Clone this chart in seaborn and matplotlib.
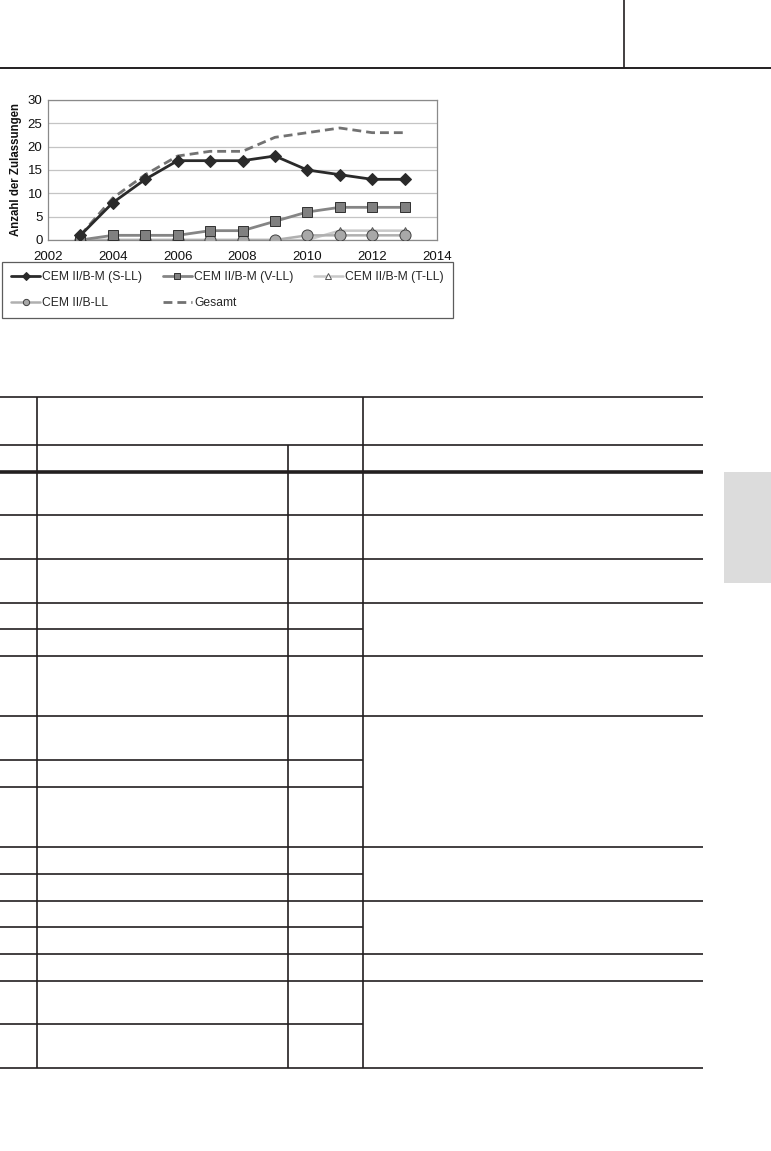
import matplotlib
matplotlib.use("Agg")
import matplotlib.pyplot as plt
from matplotlib.lines import Line2D
from matplotlib.patches import Rectangle
import seaborn as sns

sns.set_theme(style="white")
plt.rcParams['font.family'] = ['Liberation Sans', 'DejaVu Sans']

# ---------------- data ----------------
years = [2003, 2004, 2005, 2006, 2007, 2008, 2009, 2010, 2011, 2012, 2013]
s_ll = [1, 8, 13, 17, 17, 17, 18, 15, 14, 13, 13]
v_ll = [0, 1, 1, 1, 2, 2, 4, 6, 7, 7, 7]
t_ll = [0, 0, 0, 0, 0, 0, 0, 0, 2, 2, 2]
b_ll = [0, 0, 0, 0, 0, 0, 0, 1, 1, 1, 1]
gesamt = [1, 9, 14, 18, 19, 19, 22, 23, 24, 23, 23]

labels = ["CEM II/B-M (S-LL)", "CEM II/B-M (V-LL)", "CEM II/B-M (T-LL)",
          "CEM II/B-LL", "Gesamt"]
x_ticks = [2002, 2004, 2006, 2008, 2010, 2012, 2014]
y_ticks = [0, 5, 10, 15, 20, 25, 30]
y_label = "Anzahl der Zulassungen"

W, H = 771, 1151
fig = plt.figure(figsize=(W / 100, H / 100), dpi=100)


def fx(px):
    return px / W


def fy(py):
    return 1 - py / H


ax = fig.add_axes([fx(48), fy(240), fx(437) - fx(48), fy(100) - fy(240)])

sns.lineplot(x=years, y=t_ll, ax=ax, color="#c8c8c8", lw=1.8, marker="^",
             markersize=6, markerfacecolor="white", markeredgecolor="#555555",
             markeredgewidth=0.7, label=labels[2], zorder=2)
sns.lineplot(x=years, y=b_ll, ax=ax, color="#b0b0b0", lw=1.8, marker="o",
             markersize=8, markerfacecolor="#a8a8a8", markeredgecolor="#404040",
             markeredgewidth=0.7, label=labels[3], zorder=3)
sns.lineplot(x=years, y=v_ll, ax=ax, color="#858585", lw=2.0, marker="s",
             markersize=7.5, markerfacecolor="#808080", markeredgecolor="#303030",
             markeredgewidth=0.7, label=labels[1], zorder=4)
sns.lineplot(x=years, y=gesamt, ax=ax, color="#727272", lw=2.0,
             linestyle=(0, (3.2, 1.8)), label=labels[4], zorder=5)
sns.lineplot(x=years, y=s_ll, ax=ax, color="#2a2a2a", lw=2.0, marker="D",
             markersize=6.5, markerfacecolor="#2a2a2a", markeredgecolor="#2a2a2a",
             label=labels[0], zorder=6)

ax.set_xlim(2002, 2014)
ax.set_ylim(0, 30)
ax.set_xticks(x_ticks)
ax.set_yticks(y_ticks)
ax.set_xticklabels([str(v) for v in x_ticks], fontsize=9.5, color="#111111")
ax.set_yticklabels([str(v) for v in y_ticks], fontsize=9.5, color="#111111")
ax.tick_params(axis="y", length=0, pad=4)
ax.tick_params(axis="x", length=3, width=0.6, color="#999999", pad=5,
               direction="out")
ax.grid(axis="y", color="#c4c4c4", lw=0.9)
ax.grid(axis="x", visible=False)
ax.set_axisbelow(True)
for sp in ax.spines.values():
    sp.set_color("#8a8a8a")
    sp.set_linewidth(0.9)
ax.set_xlabel("")
ax.set_ylabel(y_label, fontsize=8.3, fontweight="bold", color="#111111",
              labelpad=4)

# legend in a separate box beneath the chart
handles, labs = ax.get_legend_handles_labels()
ax.get_legend().remove()
hmap = dict(zip(labs, handles))
order = [labels[0], labels[3], labels[1], labels[4], labels[2]]
leg = fig.legend([hmap[k] for k in order], order, ncol=3, mode="expand",
                 bbox_to_anchor=(fx(2), fy(316), fx(453) - fx(2), fy(262) - fy(316)),
                 loc="upper left", fontsize=8.7, frameon=True, fancybox=False,
                 handlelength=2.4, handletextpad=0.2, borderaxespad=0,
                 labelspacing=1.15, borderpad=0.75, columnspacing=1.0)
leg.get_frame().set_edgecolor("#333333")
leg.get_frame().set_linewidth(0.9)
for h in leg.legend_handles:
    h.set_markersize(4.5)


# ---------------- page decorations ----------------
def hline(y, x0, x1, lw=1.2):
    fig.add_artist(Line2D([fx(x0), fx(x1)], [fy(y), fy(y)], color="#231f20",
                          lw=lw, solid_capstyle="butt"))


def vline(x, y0, y1, lw=1.2):
    fig.add_artist(Line2D([fx(x), fx(x)], [fy(y0), fy(y1)], color="#231f20",
                          lw=lw, solid_capstyle="butt"))


hline(68, 0, 771, lw=1.4)
vline(624, 0, 68, lw=1.2)

# gray side tab
fig.add_artist(Rectangle((fx(724), fy(583)), fx(771) - fx(724), fy(472) - fy(583),
                         transform=fig.transFigure, facecolor="#dcdcdc",
                         edgecolor="none"))

# table skeleton
full_lines = [397, 445, 515, 559, 603, 656, 716, 847, 901, 954, 981, 1068]
part_lines = [629, 760, 787, 874, 927, 1024]
for y in full_lines:
    hline(y, 0, 703)
hline(472, 0, 703, lw=2.6)
for y in part_lines:
    hline(y, 0, 363)
vline(37, 397, 1068)
vline(288, 445, 1068)
vline(363, 397, 1068)

fig.savefig("out.png", dpi=100)
